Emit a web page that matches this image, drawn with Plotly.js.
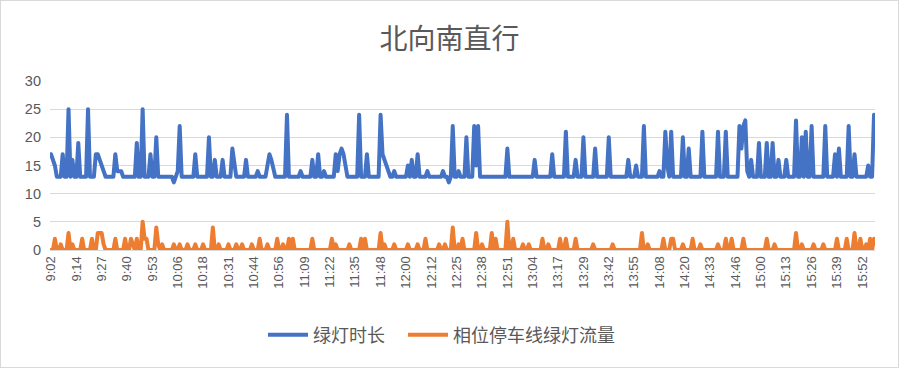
<!DOCTYPE html>
<html>
<head>
<meta charset="utf-8">
<script src="https://cdn.plot.ly/plotly-3.0.1.min.js"></script>
<style>
html,body{margin:0;padding:0;background:#fff;}
#chart{width:897px;height:366px;border:1px solid #d9d9d9;}
#chart .scatterlayer path.js-line{stroke-linejoin:round !important;stroke-linecap:round !important;}
</style>
</head>
<body>
<div id="chart"></div>
<script>
// Tick labels shown on the category axis (every 13th cycle)
const tickLabels = ["9:02","9:14","9:27","9:40","9:53","10:06","10:18","10:31","10:44","10:56","11:09","11:22","11:35","11:48","12:00","12:12","12:25","12:38","12:51","13:04","13:17","13:29","13:42","13:55","14:08","14:20","14:33","14:46","15:00","15:13","15:26","15:39","15:52"];
const labelStep = 13;

// 绿灯时长 (green duration, s) per cycle
const greenTime = [
17,16,15,13,13,13,17,13,13,25,
13,16,13,13,19,13,13,13,13,25,
13,13,13,17,17,16,15,14,13,13,
13,13,13,17,14,14,14,13,13,13,
13,13,13,13,19,13,13,25,13,13,
13,17,13,13,20,13,13,13,13,13,
13,13,13,12,13,14,22,13,13,13,
13,13,13,13,17,13,13,13,13,13,
13,20,13,13,16,13,13,13,16,13,
13,13,13,18,15,13,13,13,13,13,
16,13,13,13,13,13,14,13,13,13,
13,15,17,16,14,13,13,13,13,13,
13,24,13,13,13,13,13,13,14,13,
13,13,13,13,16,13,13,17,13,13,
14,13,13,13,13,13,17,14,17,18,
17,15,13,13,13,13,13,13,24,13,
13,13,17,13,13,13,13,13,13,24,
17,16,15,14,13,13,14,13,13,13,
13,13,13,15,13,16,13,13,17,13,
13,13,13,14,13,13,13,13,13,13,
13,14,13,13,12,13,22,13,13,14,
13,13,13,20,13,13,13,22,15,22,
13,13,13,13,13,13,13,13,13,13,
13,13,13,13,18,13,13,13,13,13,
13,13,13,13,13,13,13,13,16,13,
13,13,13,13,13,13,13,17,13,13,
13,13,13,13,21,13,13,13,13,16,
13,13,13,20,13,13,13,13,13,18,
13,13,13,13,13,13,20,13,13,13,
13,13,13,13,13,13,16,13,13,13,
15,13,13,13,22,13,13,13,13,13,
13,13,14,13,13,21,15,13,21,13,
13,13,13,13,20,13,13,18,13,13,
13,13,13,13,21,13,13,13,13,13,
13,13,21,13,13,13,21,13,13,13,
13,13,13,22,18,22,23,14,13,16,
13,13,13,19,13,13,13,19,13,13,
19,13,13,16,13,13,13,16,13,13,
13,13,23,13,13,20,13,21,13,13,
22,13,13,13,13,13,13,22,13,13,
13,13,17,13,18,13,13,13,13,22,
13,13,17,13,13,13,13,13,13,15,
13,13,24
];

// 相位停车线绿灯流量 (stop-line green flow, veh) per cycle
const greenFlow = [
0,0,2,0,0,1,0,0,0,3,
0,1,0,0,0,0,2,0,0,0,
0,2,0,0,3,3,3,1,0,0,
0,0,0,2,0,0,0,0,2,0,
0,2,1,0,2,0,0,5,2,2,
0,0,0,0,4,1,0,1,0,0,
0,0,0,1,0,0,1,0,0,0,
1,0,0,0,1,0,0,0,1,0,
0,0,0,4,0,0,1,0,0,0,
0,1,0,0,0,1,0,0,1,0,
0,0,0,1,0,0,0,2,0,0,
0,1,0,0,0,0,2,0,0,1,
0,0,2,0,2,0,0,0,0,0,
0,0,0,0,2,0,0,0,0,0,
0,0,0,0,2,0,1,0,0,0,
0,0,0,1,0,0,0,0,0,2,
0,2,0,0,0,0,0,0,0,3,
0,1,0,0,0,0,1,0,0,0,
0,0,0,1,0,0,0,0,1,0,
0,0,2,0,0,0,0,0,0,1,
0,0,1,0,0,0,4,0,0,1,
0,2,0,0,0,0,0,0,3,0,
0,1,0,0,0,0,3,0,2,0,
0,0,0,0,5,0,0,2,0,0,
0,0,1,0,0,1,0,0,0,0,
0,0,2,0,0,1,0,0,0,0,
0,2,0,0,2,0,0,0,0,2,
0,0,0,0,0,0,0,0,1,0,
0,0,0,0,0,0,0,0,1,0,
0,0,0,0,0,0,0,0,0,0,
0,0,0,3,0,0,1,0,0,0,
0,0,0,0,2,0,0,0,2,2,
0,0,0,0,1,0,0,0,0,2,
0,0,0,1,0,0,0,0,0,0,
0,0,1,0,0,0,2,0,0,2,
0,0,0,0,0,2,0,0,0,0,
0,0,0,0,0,0,0,2,0,0,
0,1,0,0,0,0,0,0,0,0,
0,0,3,0,0,1,0,0,0,0,
0,1,0,0,0,0,1,0,0,0,
0,0,0,2,0,0,0,0,2,0,
0,0,3,0,0,2,0,0,1,0,
2,0,2
];

const seriesNames = ["绿灯时长","相位停车线绿灯流量"];
const yTicks = [0,5,10,15,20,25,30];

const n = greenTime.length;
const tickPositions = tickLabels.map((_, j) => j * labelStep);

const fontFam = '"Noto Sans CJK SC", "Noto Sans", "Liberation Sans", sans-serif';

const traces = [
  {y: greenTime, type: 'scatter', mode: 'lines', name: seriesNames[0], legend: 'legend',
   line: {color: '#4472C4', width: 4, shape: 'linear'}},
  {y: greenFlow, type: 'scatter', mode: 'lines', name: seriesNames[1], legend: 'legend2',
   line: {color: '#ED7D31', width: 4, shape: 'linear'}}
];

const legendBase = {orientation: 'h', xanchor: 'left', y: -0.503, yanchor: 'middle',
  font: {size: 18, color: '#595959', family: fontFam}, itemwidth: 40, bgcolor: 'rgba(0,0,0,0)'};

const layout = {
  width: 897, height: 366,
  margin: {l: 49, r: 23, t: 80, b: 117, pad: 0},
  paper_bgcolor: '#ffffff', plot_bgcolor: '#ffffff',
  font: {family: fontFam, color: '#595959'},
  title: {text: '北向南直行', x: 0.5, xanchor: 'center', y: 1 - 38/366, yref: 'container', yanchor: 'middle',
          font: {size: 28, color: '#595959', family: fontFam}},
  showlegend: true,
  legend: Object.assign({}, legendBase, {x: (262 - 49) / 825}),
  legend2: Object.assign({}, legendBase, {x: (402 - 49) / 825}),
  xaxis: {
    range: [-0.5, n - 0.5],
    tickmode: 'array', tickvals: tickPositions, ticktext: tickLabels,
    tickangle: -90, ticks: '', showgrid: false, zeroline: false,
    showline: true, linecolor: '#d9d9d9', linewidth: 1,
    tickfont: {size: 13, color: '#595959', family: '"Liberation Sans", sans-serif'}
  },
  yaxis: {
    range: [0, 30], tickmode: 'array', tickvals: yTicks,
    showgrid: true, gridcolor: '#d9d9d9', gridwidth: 1, zeroline: false,
    showline: false, ticks: '', ticklabelstandoff: 8,
    tickfont: {size: 14.5, color: '#595959', family: '"Liberation Sans", sans-serif'}
  }
};

Plotly.newPlot('chart', traces, layout, {displayModeBar: false, staticPlot: true});
</script>
</body>
</html>
